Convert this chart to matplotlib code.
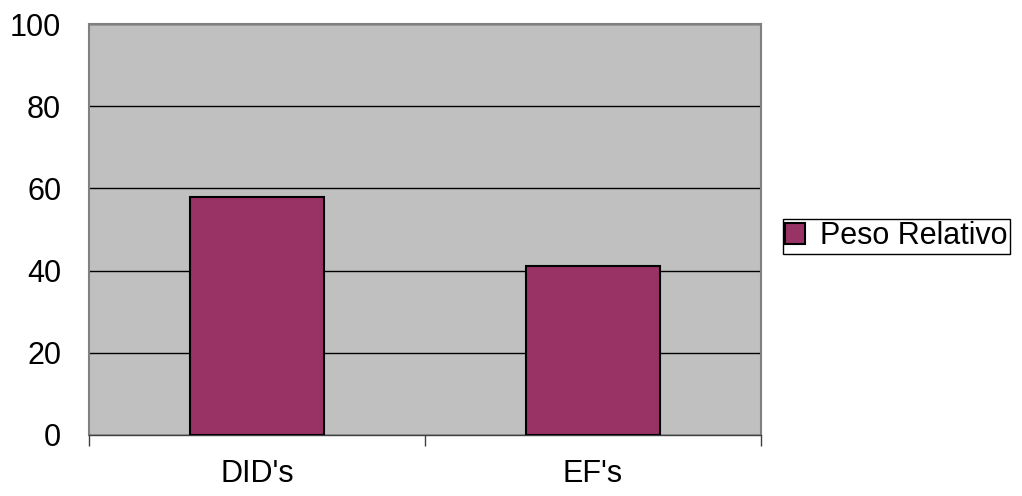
import matplotlib.pyplot as plt
import numpy as np

# Relative weight per group
categories = ["DID's", "EF's"]
peso = [58, 41]
y_ticks = [0, 20, 40, 60, 80, 100]

plt.rcParams['font.family'] = ['Liberation Sans', 'DejaVu Sans']

fig = plt.figure(figsize=(10.22, 4.96), dpi=100)
ax = fig.add_axes([0.0871, 0.123, 0.6575, 0.8286])
ax.set_facecolor('#c0c0c0')

x = np.arange(len(categories))
ax.bar(x, peso, width=0.4, color='#993366', edgecolor='black',
       linewidth=1.5, label='Peso Relativo', zorder=3)

# horizontal gridlines
ax.set_ylim(0, 100)
ax.set_yticks(y_ticks)
ax.yaxis.grid(True, color='black', linewidth=1)
ax.set_axisbelow(True)
ax.tick_params(axis='y', length=0, labelsize=22, pad=20)

# category labels between tick marks at group boundaries
ax.set_xlim(-0.5, len(categories) - 0.5)
ax.set_xticks(x)
ax.set_xticklabels(categories)
ax.set_xticks(np.arange(len(categories) + 1) - 0.5, minor=True)
ax.tick_params(axis='x', which='major', length=0, labelsize=22, pad=17)
ax.tick_params(axis='x', which='minor', length=8, width=1, color='#404040')

for s in ['left', 'top', 'right']:
    ax.spines[s].set_color('#808080')
    ax.spines[s].set_linewidth(1.5)
ax.spines['bottom'].set_color('#404040')
ax.spines['bottom'].set_linewidth(1)

leg = fig.legend(loc='center left', bbox_to_anchor=(0.766, 0.524),
                 fontsize=22, fancybox=False, framealpha=1,
                 edgecolor='black', handlelength=0.65, handleheight=0.65,
                 handletextpad=0.5, borderpad=0.08, borderaxespad=0)
leg.get_frame().set_linewidth(1)

fig.savefig('out.png', dpi=100)
